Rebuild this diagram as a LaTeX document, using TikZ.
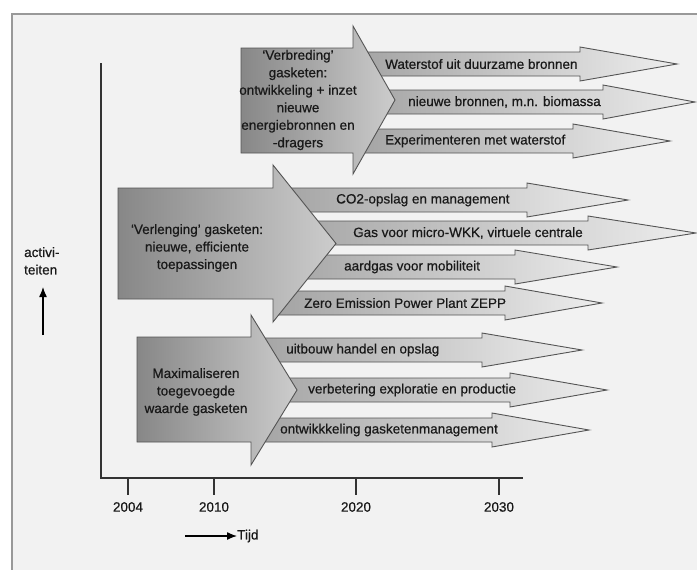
\documentclass[tikz,border=0pt]{standalone}
\usepackage{fontspec}
\setmainfont{Liberation Sans}[FakeBold=0.6]
\usepackage{tikz}
\usetikzlibrary{arrows.meta}
\definecolor{scanGray}{rgb}{0.95,0.95,0.95}
\definecolor{edgeGray}{rgb}{0.33,0.33,0.33}
\definecolor{frameGray}{rgb}{0.6,0.6,0.6}

\begin{document}
\begin{tikzpicture}[x=1pt, y=-1pt,
  lbl/.style={font=\fontsize{13.5}{17.5}\selectfont, text=black!90, inner sep=0pt},
  bigArrow/.style={draw=edgeGray, line width=0.9pt, left color=black!47, right color=black!20},
  smallArrow/.style={draw=edgeGray, line width=0.9pt, left color=black!36, right color=black!7},
  axisLine/.style={draw=black!80, line width=1.8pt}]
	\useasboundingbox (0,0) rectangle (697,570);
	\fill[white] (0,0) rectangle (697,570);
	\fill[scanGray] (12,14) rectangle (697,570);
	\draw[frameGray, line width=1.2pt] (697,14) -- (12,14) -- (12,570);

	% axes
	\draw[axisLine] (101,63) -- (101,478) -- (523,478);
	\foreach \x/\yr in {128/2004,214/2010,356/2020,499/2030} {
		\draw[axisLine, line width=1.5pt] (\x,478) -- (\x,495);
		\node[lbl] (y\yr) at (\x,507) {\yr};
	}
	\node[lbl, anchor=west] (tijd) at (237,536) {Tijd};
	\coordinate (tijdStart) at (185,536);
	\draw[line width=1.3pt, -{Latex[length=10pt,width=8pt]}] (tijdStart) -- (tijd.west);
	\node[lbl, anchor=north west, align=left] (activiteiten) at (24,247) {activi-\\teiten};
	\coordinate (actStart) at (43,335);
	\coordinate (actEnd) at (43,287);
	\draw[line width=1.3pt, -{Latex[length=10pt,width=8pt]}] (actStart) -- (actEnd);

	% verbreding
	\draw[smallArrow] (355,52) -- (580,52) -- (580,47) -- (677,64) -- (580,81) -- (580,76) -- (355,76) -- cycle;
	\draw[smallArrow] (355,90) -- (603,90) -- (603,85) -- (695,102) -- (603,119) -- (603,114) -- (355,114) -- cycle;
	\draw[smallArrow] (355,129) -- (573,129) -- (573,124) -- (670,141) -- (573,158) -- (573,153) -- (355,153) -- cycle;
	\draw[bigArrow] (241,48) -- (353,48) -- (353,26) -- (395,100) -- (353,174) -- (353,153) -- (241,153) -- cycle;
	\node[lbl, align=center] (verbreding) at (298,100) {`Verbreding'\\gasketen:\\ontwikkeling + inzet\\nieuwe\\energiebronnen en\\-dragers};
	\node[lbl, anchor=west] (waterstof) at (385,64) {Waterstof uit duurzame bronnen};
	\node[lbl, anchor=west] (biomassa) at (408,102) {nieuwe bronnen, m.n. biomassa};
	\node[lbl, anchor=west] (experimenteren) at (385,141) {Experimenteren met waterstof};

	% verlenging
	\draw[smallArrow] (275,188) -- (527,188) -- (527,183) -- (628,200) -- (527,217) -- (527,212) -- (275,212) -- cycle;
	\draw[smallArrow] (275,221) -- (588,221) -- (588,216) -- (696,233) -- (588,250) -- (588,245) -- (275,245) -- cycle;
	\draw[smallArrow] (275,255) -- (515,255) -- (515,250) -- (617,267) -- (515,284) -- (515,279) -- (275,279) -- cycle;
	\draw[smallArrow] (275,291) -- (505,291) -- (505,286) -- (602,303) -- (505,320) -- (505,315) -- (275,315) -- cycle;
	\draw[bigArrow] (118,188) -- (273,188) -- (273,165) -- (336,243.5) -- (273,322) -- (273,299) -- (118,299) -- cycle;
	\node[lbl, align=center] (verlenging) at (197,248) {`Verlenging' gasketen:\\nieuwe, efficiente\\toepassingen};
	\node[lbl, anchor=west] (co2) at (336,200) {CO2-opslag en management};
	\node[lbl, anchor=west] (microwkk) at (353,233) {Gas voor micro-WKK, virtuele centrale};
	\node[lbl, anchor=west] (mobiliteit) at (344,267) {aardgas voor mobiliteit};
	\node[lbl, anchor=west] (zepp) at (304,303) {Zero Emission Power Plant ZEPP};

	% maximaliseren
	\draw[smallArrow] (253,338) -- (482,338) -- (482,333) -- (582,350) -- (482,367) -- (482,362) -- (253,362) -- cycle;
	\draw[smallArrow] (253,378) -- (510,378) -- (510,373) -- (607,390) -- (510,407) -- (510,402) -- (253,402) -- cycle;
	\draw[smallArrow] (253,418) -- (492,418) -- (492,413) -- (589,430) -- (492,447) -- (492,442) -- (253,442) -- cycle;
	\draw[bigArrow] (137,337) -- (251,337) -- (251,315) -- (297,390) -- (251,465) -- (251,442) -- (137,442) -- cycle;
	\node[lbl, align=center] (maximaliseren) at (196,392) {Maximaliseren\\toegevoegde\\waarde gasketen};
	\node[lbl, anchor=west] (handel) at (286,350) {uitbouw handel en opslag};
	\node[lbl, anchor=west] (exploratie) at (308,390) {verbetering exploratie en productie};
	\node[lbl, anchor=west] (ketenbeheer) at (280,430) {ontwikkkeling gasketenmanagement};
\end{tikzpicture}
\end{document}
